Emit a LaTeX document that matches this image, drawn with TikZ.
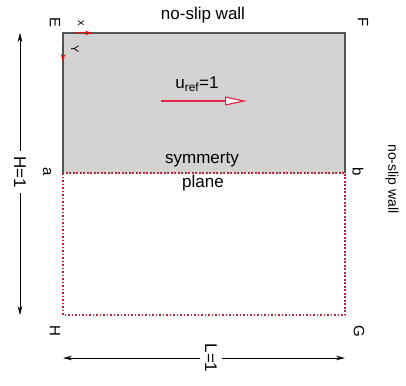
\documentclass[tikz,border=0pt]{standalone}
\usepackage{fontspec}
\setmainfont{Liberation Sans}
\usetikzlibrary{arrows.meta}
\definecolor{boxgrey}{HTML}{D3D3D3}
\definecolor{edgegrey}{HTML}{555555}
\definecolor{dotred}{HTML}{B8283A}
\definecolor{axred}{HTML}{D81010}
\definecolor{flowred}{HTML}{E02848}
\tikzset{
  lbl/.style={font=\fontsize{15}{17}\selectfont, rotate=-90, inner sep=1pt},
  txt/.style={font=\fontsize{17}{19}\selectfont, inner sep=1pt},
  dimarrow/.style={-{Stealth[length=9pt,width=4.5pt]}, line width=0.6pt, black},
  axarrow/.style={-{Stealth[length=8pt,width=4.5pt]}, line width=1pt, axred},
  dotline/.style={dotred, line width=1.8pt, dash pattern=on 1.8pt off 1.7pt},
}
\begin{document}
\begin{tikzpicture}[x=1pt,y=-1pt]
\useasboundingbox (0,0) rectangle (406,385);
% corners
\coordinate (E0) at (63,33);
\coordinate (F0) at (345,33);
\coordinate (a0) at (63,173);
\coordinate (b0) at (345,173);
\coordinate (H0) at (63,315);
\coordinate (G0) at (345,315);
% grey upper half
\fill[boxgrey] (E0) rectangle (b0);
\draw[edgegrey, line width=1.6pt] (a0) -- (E0) -- (F0) -- (b0);
% dotted lower half
\draw[dotline] (a0) -- (H0) -- (G0) -- (b0) -- cycle;
% corner axes
\coordinate (xs) at (76,33);
\coordinate (ys) at (63,44);
\coordinate (xend) at (93,33);
\coordinate (yend) at (63,62);
\draw[axarrow] (xs) -- (xend);
\draw[axarrow] (ys) -- (yend);
\node[lbl, font=\fontsize{11}{13}\selectfont] (xl) at (81,23) {x};
\node[lbl, font=\fontsize{11}{13}\selectfont] (yl) at (75,49) {Y};
% corner labels
\node[lbl] (El) at (55,23) {E};
\node[lbl] (Fl) at (363,22) {F};
\node[lbl] (al) at (47,172) {a};
\node[lbl] (bl) at (358,172) {b};
\node[lbl] (Hl) at (55,331) {H};
\node[lbl] (Gl) at (359,331) {G};
% texts
\node[txt] (top) at (203,15) {no-slip wall};
\node[txt] (sym) at (202,160) {symmerty};
\node[txt] (pln) at (203,183) {plane};
\node[lbl, font=\fontsize{14}{16}\selectfont] (rw) at (392,179) {no-slip wall};
% reference velocity
\node[txt] (uref) at (197,84) {u\textsubscript{ref}=1};
\coordinate (us) at (161,101);
\coordinate (ue) at (247,101);
\draw[flowred, line width=1.2pt, -{Triangle[open, length=22pt, width=9pt, fill=white]}] (us) -- (ue);
% H=1 dimension
\node[lbl, font=\fontsize{17}{19}\selectfont, fill=white, inner sep=5pt] (Hd) at (20,172) {H=1};
\coordinate (Ht) at (20,33);
\coordinate (Hb) at (20,315);
\draw[dimarrow] (Hd) -- (Ht);
\draw[dimarrow] (Hd) -- (Hb);
% L=1 dimension
\node[lbl, font=\fontsize{17}{19}\selectfont, fill=white, inner sep=5pt] (Ld) at (211,358) {L=1};
\coordinate (Ll) at (63,358);
\coordinate (Lr) at (345,358);
\draw[dimarrow] (Ld) -- (Ll);
\draw[dimarrow] (Ld) -- (Lr);
\end{tikzpicture}
\end{document}
